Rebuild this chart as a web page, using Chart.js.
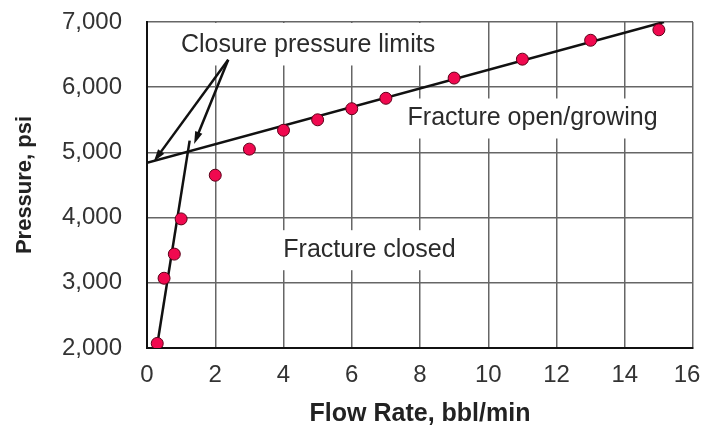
<!DOCTYPE html>
<html>
<head>
<meta charset="utf-8">
<script src="https://cdn.jsdelivr.net/npm/chart.js@4.4.0/dist/chart.umd.min.js"></script>
<style>
  html, body { margin: 0; padding: 0; background: #fff; }
  #wrap { width: 703px; height: 427px; }
</style>
</head>
<body>
<div id="wrap"><canvas id="chart" width="703" height="427"></canvas></div>
<script>
// measured data points (flow rate, pressure)
const flowRates = [0.3, 0.5, 0.8, 1.0, 2, 3, 4, 5, 6, 7, 9, 11, 13, 15];
const pressures = [2070, 3070, 3440, 3980, 4650, 5050, 5340, 5500, 5670, 5830, 6140, 6430, 6720, 6880];

// fitted lines
const closedLineX = [0.3, 1.25];
const closedLineY = [2050, 5180];
const openLineX = [0, 15.15];
const openLineY = [4840, 7000];

// arrows: one shared origin, two tips
const arrowFrom = { x: 2.38, y: 6420 };
const arrowTipsX = [0.2, 1.38];
const arrowTipsY = [4860, 5130];

// text annotations
const noteTexts = ['Closure pressure limits', 'Fracture open/growing', 'Fracture closed'];
const noteX = [4.72, 11.3, 6.52];
const noteY = [6640, 5520, 3500];

const xTicks = [0, 2, 4, 6, 8, 10, 12, 14, 16];
const yTicks = [2000, 3000, 4000, 5000, 6000, 7000];

const FONT = '"Liberation Sans", Arial, Helvetica, sans-serif';

const zip = (xs, ys) => xs.map((x, i) => ({ x, y: ys[i] }));

const notesPlugin = {
  id: 'notes',
  beforeDatasetsDraw(chart) {
    const { ctx, scales: { x, y } } = chart;
    ctx.save();
    ctx.font = '25px ' + FONT;
    noteTexts.forEach((t, i) => {
      const w = ctx.measureText(t).width;
      const cx = x.getPixelForValue(noteX[i]);
      const cy = y.getPixelForValue(noteY[i]);
      ctx.fillStyle = '#fff';
      const top = i === 0 ? chart.chartArea.top + 1 : cy - 20;
      ctx.fillRect(cx - w / 2 - 6, top, w + 12, cy + 20 - top);
    });
    ctx.restore();
  },
  afterDatasetsDraw(chart) {
    const { ctx, scales: { x, y } } = chart;
    ctx.save();
    ctx.font = '25px ' + FONT;
    ctx.fillStyle = '#2b2b2b';
    ctx.textAlign = 'center';
    ctx.textBaseline = 'middle';
    noteTexts.forEach((t, i) => {
      ctx.fillText(t, x.getPixelForValue(noteX[i]), y.getPixelForValue(noteY[i]));
    });

    // arrows
    const fx = x.getPixelForValue(arrowFrom.x);
    const fy = y.getPixelForValue(arrowFrom.y);
    ctx.strokeStyle = '#111';
    ctx.fillStyle = '#111';
    ctx.lineWidth = 2.5;
    arrowTipsX.forEach((ax, i) => {
      const tx = x.getPixelForValue(ax);
      const ty = y.getPixelForValue(arrowTipsY[i]);
      const ang = Math.atan2(ty - fy, tx - fx);
      const head = 13, spread = 0.3;
      const bx = tx - head * Math.cos(ang) * 0.8;
      const by = ty - head * Math.sin(ang) * 0.8;
      ctx.beginPath();
      ctx.moveTo(fx, fy);
      ctx.lineTo(bx, by);
      ctx.stroke();
      ctx.beginPath();
      ctx.moveTo(tx, ty);
      ctx.lineTo(tx - head * Math.cos(ang - spread), ty - head * Math.sin(ang - spread));
      ctx.lineTo(tx - head * Math.cos(ang + spread), ty - head * Math.sin(ang + spread));
      ctx.closePath();
      ctx.fill();
    });
    ctx.restore();
  }
};

new Chart(document.getElementById('chart'), {
  type: 'scatter',
  data: {
    datasets: [
      {
        label: 'Measured',
        data: zip(flowRates, pressures),
        pointRadius: 6,
        pointBackgroundColor: '#f0094f',
        pointBorderColor: '#5c0018',
        pointBorderWidth: 1,
        showLine: false
      },
      {
        label: 'Closed',
        data: zip(closedLineX, closedLineY),
        showLine: true,
        borderColor: '#111',
        borderWidth: 2.5,
        pointRadius: 0
      },
      {
        label: 'Open',
        data: zip(openLineX, openLineY),
        showLine: true,
        borderColor: '#111',
        borderWidth: 2.5,
        pointRadius: 0
      }
    ]
  },
  options: {
    responsive: false,
    animation: false,
    layout: { padding: { top: 22, right: 10, bottom: 0, left: 0 } },
    plugins: {
      legend: { display: false },
      tooltip: { enabled: false }
    },
    scales: {
      x: {
        type: 'linear',
        min: 0,
        max: 16,
        afterBuildTicks: s => { s.ticks = xTicks.map(v => ({ value: v })); },
        afterFit: s => { s.height = 79; s.paddingLeft = 0; s.paddingRight = 0; },
        grid: { color: '#666', lineWidth: 1.5, drawTicks: false },
        border: { color: '#111', width: 2 },
        ticks: {
          color: '#333',
          font: { family: FONT, size: 24 },
          padding: 13,
          maxRotation: 0,
          // last label sits a little inside the edge, as in the original
          callback: v => v === 16 ? v + '\u2002' : String(v)
        },
        title: {
          display: true,
          text: 'Flow Rate, bbl/min',
          color: '#222',
          font: { family: FONT, size: 25, weight: 'bold' },
          padding: { top: 0, bottom: -2 }
        }
      },
      y: {
        type: 'linear',
        min: 2000,
        max: 7000,
        afterBuildTicks: s => { s.ticks = yTicks.map(v => ({ value: v })); },
        afterFit: s => { s.width = 147; s.paddingTop = 0; s.paddingBottom = 0; },
        grid: { color: '#666', lineWidth: 1.5, drawTicks: false },
        border: { color: '#111', width: 2 },
        ticks: {
          color: '#333',
          font: { family: FONT, size: 24 },
          padding: 25,
          callback: v => v.toLocaleString('en-US')
        },
        title: {
          display: true,
          text: 'Pressure, psi',
          color: '#222',
          font: { family: FONT, size: 22, weight: 'bold' },
          padding: { top: 12, bottom: 0 }
        }
      }
    }
  },
  plugins: [notesPlugin]
});
</script>
</body>
</html>
